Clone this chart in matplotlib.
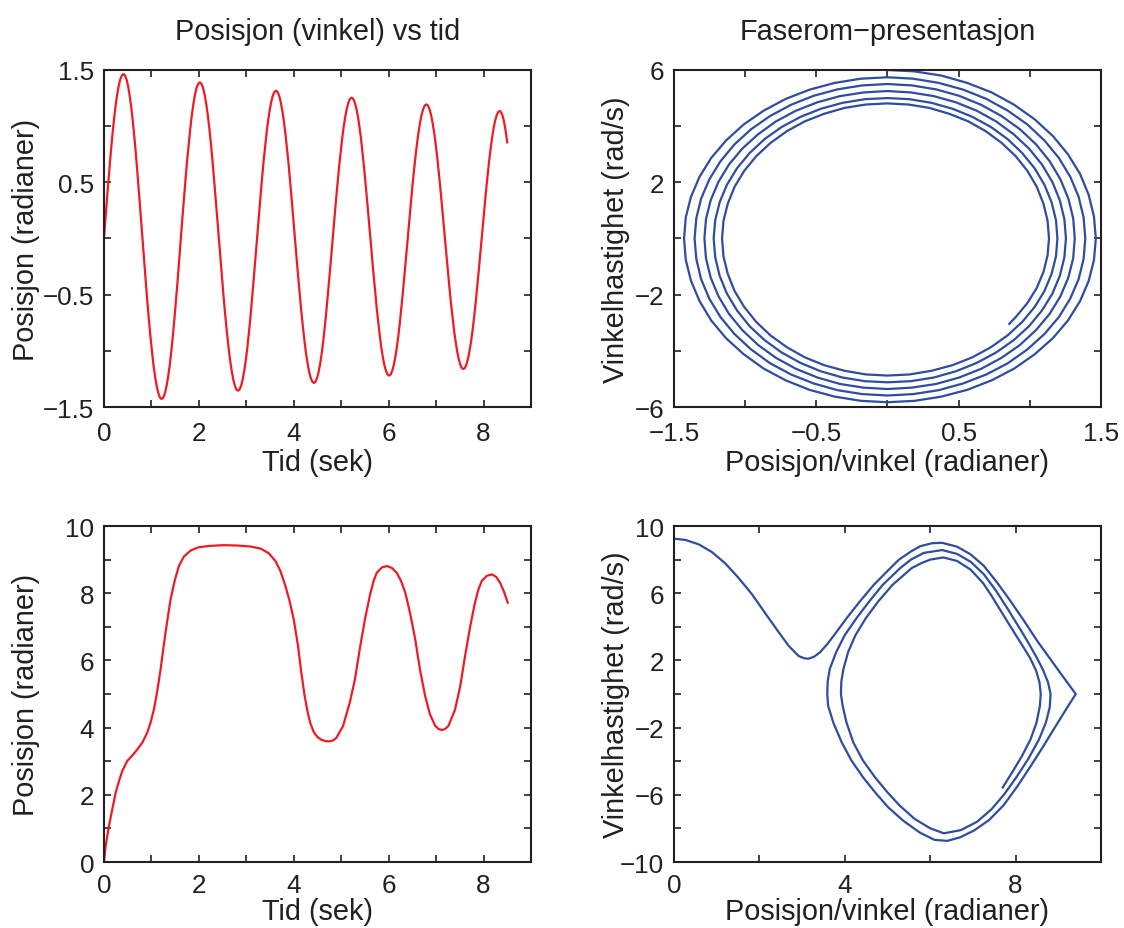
import numpy as np
import matplotlib
matplotlib.use('Agg')
import matplotlib.pyplot as plt

plt.rcParams['font.family'] = ['Liberation Sans', 'DejaVu Sans']

RED = '#ed1c24'
BLUE = '#2f4d9f'
INK = '#231f20'

# --- øverst: liten utslag, tid / vinkel / vinkelhastighet (lest av bildet)
t_top = [
    0.000, 0.034, 0.068, 0.103, 0.137, 0.171, 0.205, 0.239, 0.273, 0.308, 0.342, 0.376, 0.410,
    0.443, 0.477, 0.510, 0.543, 0.577, 0.610, 0.643, 0.677, 0.710, 0.743, 0.777, 0.810,
    0.844, 0.878, 0.911, 0.945, 0.979, 1.013, 1.046, 1.080, 1.114, 1.148, 1.181, 1.215,
    1.249, 1.283, 1.316, 1.350, 1.384, 1.418, 1.451, 1.485, 1.519, 1.553, 1.586, 1.620,
    1.653, 1.687, 1.720, 1.753, 1.787, 1.820, 1.853, 1.887, 1.920, 1.953, 1.987, 2.020,
    2.053, 2.087, 2.120, 2.153, 2.187, 2.220, 2.253, 2.287, 2.320, 2.353, 2.387, 2.420,
    2.454, 2.488, 2.521, 2.555, 2.589, 2.623, 2.656, 2.690, 2.724, 2.758, 2.791, 2.825,
    2.858, 2.892, 2.925, 2.958, 2.992, 3.025, 3.058, 3.092, 3.125, 3.158, 3.192, 3.225,
    3.258, 3.292, 3.325, 3.358, 3.392, 3.425, 3.458, 3.492, 3.525, 3.558, 3.592, 3.625,
    3.658, 3.692, 3.725, 3.758, 3.792, 3.825, 3.858, 3.892, 3.925, 3.958, 3.992, 4.025,
    4.058, 4.092, 4.125, 4.158, 4.192, 4.225, 4.258, 4.292, 4.325, 4.358, 4.392, 4.425,
    4.458, 4.491, 4.524, 4.557, 4.590, 4.623, 4.655, 4.688, 4.721, 4.754, 4.787, 4.820,
    4.853, 4.887, 4.920, 4.953, 4.987, 5.020, 5.053, 5.087, 5.120, 5.153, 5.187, 5.220,
    5.253, 5.286, 5.319, 5.352, 5.385, 5.418, 5.450, 5.483, 5.516, 5.549, 5.582, 5.615,
    5.648, 5.681, 5.714, 5.747, 5.780, 5.813, 5.845, 5.878, 5.911, 5.944, 5.977, 6.010,
    6.043, 6.075, 6.108, 6.140, 6.173, 6.205, 6.238, 6.270, 6.303, 6.335, 6.368, 6.400,
    6.433, 6.466, 6.499, 6.532, 6.565, 6.598, 6.630, 6.663, 6.696, 6.729, 6.762, 6.795,
    6.828, 6.860, 6.893, 6.925, 6.958, 6.990, 7.023, 7.055, 7.088, 7.120, 7.153, 7.185,
    7.218, 7.250, 7.283, 7.315, 7.348, 7.380, 7.413, 7.445, 7.478, 7.510, 7.543, 7.575,
    7.607, 7.639, 7.671, 7.703, 7.735, 7.768, 7.800, 7.832, 7.864, 7.896, 7.928, 7.960,
    7.992, 8.023, 8.055, 8.087, 8.118, 8.150, 8.182, 8.213, 8.245, 8.277, 8.308, 8.340,
    8.369, 8.399, 8.428, 8.457, 8.486, 8.500]

theta_top = [
    0.000, 0.191, 0.379, 0.560, 0.732, 0.891, 1.035, 1.162, 1.268, 1.353, 1.414, 1.451, 1.464,
    1.451, 1.414, 1.353, 1.268, 1.162, 1.035, 0.891, 0.732, 0.560, 0.379, 0.191, 0.000,
    -0.186, -0.370, -0.547, -0.715, -0.870, -1.010, -1.134, -1.238, -1.320, -1.380, -1.417, -1.429,
    -1.417, -1.380, -1.320, -1.238, -1.134, -1.010, -0.870, -0.715, -0.547, -0.370, -0.186, 0.000,
    0.181, 0.360, 0.532, 0.695, 0.846, 0.983, 1.103, 1.204, 1.284, 1.343, 1.378, 1.390,
    1.378, 1.343, 1.284, 1.204, 1.103, 0.983, 0.846, 0.695, 0.532, 0.360, 0.181, 0.000,
    -0.177, -0.351, -0.519, -0.678, -0.825, -0.958, -1.075, -1.173, -1.252, -1.309, -1.343, -1.355,
    -1.343, -1.309, -1.252, -1.173, -1.075, -0.958, -0.825, -0.678, -0.519, -0.351, -0.177, 0.000,
    0.172, 0.341, 0.504, 0.658, 0.801, 0.931, 1.044, 1.140, 1.216, 1.271, 1.305, 1.316,
    1.305, 1.271, 1.216, 1.140, 1.044, 0.931, 0.801, 0.658, 0.504, 0.341, 0.172, 0.000,
    -0.168, -0.333, -0.492, -0.643, -0.783, -0.909, -1.020, -1.114, -1.188, -1.242, -1.275, -1.286,
    -1.275, -1.242, -1.188, -1.114, -1.020, -0.909, -0.783, -0.643, -0.492, -0.333, -0.168, 0.000,
    0.164, 0.325, 0.480, 0.627, 0.763, 0.887, 0.995, 1.086, 1.159, 1.211, 1.243, 1.254,
    1.243, 1.211, 1.159, 1.086, 0.995, 0.887, 0.763, 0.627, 0.480, 0.325, 0.164, 0.000,
    -0.159, -0.316, -0.467, -0.611, -0.743, -0.863, -0.969, -1.057, -1.128, -1.179, -1.210, -1.221,
    -1.210, -1.179, -1.128, -1.057, -0.969, -0.863, -0.743, -0.611, -0.467, -0.316, -0.159, 0.000,
    0.156, 0.309, 0.457, 0.597, 0.727, 0.844, 0.947, 1.034, 1.103, 1.153, 1.184, 1.194,
    1.184, 1.153, 1.103, 1.034, 0.947, 0.844, 0.727, 0.597, 0.457, 0.309, 0.156, 0.000,
    -0.152, -0.301, -0.445, -0.581, -0.707, -0.822, -0.922, -1.006, -1.074, -1.122, -1.152, -1.162,
    -1.152, -1.122, -1.074, -1.006, -0.922, -0.822, -0.707, -0.581, -0.445, -0.301, -0.152, 0.000,
    0.148, 0.294, 0.434, 0.568, 0.691, 0.803, 0.901, 0.983, 1.049, 1.096, 1.125, 1.135,
    1.125, 1.096, 1.049, 0.983, 0.901, 0.856]

omega_top = [
    6.00, 5.95, 5.80, 5.54, 5.20, 4.76, 4.24, 3.65, 3.00, 2.30, 1.55, 0.78, 0.00,
    -0.76, -1.51, -2.23, -2.92, -3.55, -4.12, -4.63, -5.05, -5.39, -5.63, -5.78, -5.83,
    -5.78, -5.63, -5.39, -5.05, -4.63, -4.12, -3.55, -2.92, -2.23, -1.51, -0.76, 0.00,
    0.75, 1.49, 2.20, 2.87, 3.49, 4.06, 4.55, 4.97, 5.30, 5.54, 5.69, 5.74,
    5.69, 5.54, 5.30, 4.97, 4.55, 4.06, 3.49, 2.87, 2.20, 1.49, 0.75, 0.00,
    -0.73, -1.45, -2.14, -2.80, -3.40, -3.95, -4.44, -4.84, -5.16, -5.40, -5.54, -5.59,
    -5.54, -5.40, -5.16, -4.84, -4.44, -3.95, -3.40, -2.80, -2.14, -1.45, -0.73, 0.00,
    0.72, 1.42, 2.10, 2.75, 3.35, 3.89, 4.36, 4.76, 5.08, 5.31, 5.45, 5.50,
    5.45, 5.31, 5.08, 4.76, 4.36, 3.89, 3.35, 2.75, 2.10, 1.42, 0.72, 0.00,
    -0.70, -1.39, -2.05, -2.68, -3.26, -3.79, -4.25, -4.64, -4.95, -5.18, -5.31, -5.36,
    -5.31, -5.18, -4.95, -4.64, -4.25, -3.79, -3.26, -2.68, -2.05, -1.39, -0.70, 0.00,
    0.69, 1.36, 2.01, 2.63, 3.20, 3.71, 4.17, 4.55, 4.85, 5.07, 5.20, 5.25,
    5.20, 5.07, 4.85, 4.55, 4.17, 3.71, 3.20, 2.63, 2.01, 1.36, 0.69, 0.00,
    -0.67, -1.33, -1.96, -2.56, -3.12, -3.62, -4.06, -4.43, -4.73, -4.95, -5.08, -5.12,
    -5.08, -4.95, -4.73, -4.43, -4.06, -3.62, -3.12, -2.56, -1.96, -1.33, -0.67, 0.00,
    0.65, 1.29, 1.91, 2.50, 3.04, 3.54, 3.97, 4.33, 4.62, 4.83, 4.96, 5.00,
    4.96, 4.83, 4.62, 4.33, 3.97, 3.54, 3.04, 2.50, 1.91, 1.29, 0.65, 0.00,
    -0.64, -1.26, -1.87, -2.44, -2.97, -3.45, -3.87, -4.23, -4.51, -4.71, -4.84, -4.88,
    -4.84, -4.71, -4.51, -4.23, -3.87, -3.45, -2.97, -2.44, -1.87, -1.26, -0.64, 0.00,
    0.63, 1.24, 1.84, 2.41, 2.93, 3.40, 3.82, 4.17, 4.44, 4.65, 4.77, 4.81,
    4.77, 4.65, 4.44, 4.17, 3.82, 3.40, 2.93, 2.41, 1.84, 1.24, 0.63, 0.00,
    -0.60, -1.19, -1.76, -2.30, -2.80, -3.04]

# --- nederst: stort utslag (over toppen), vinkel mot tid
t_bot = [0.000, 0.035, 0.105, 0.175, 0.246, 0.316, 0.386, 0.491, 0.596, 0.702,
         0.807, 0.912, 0.982, 1.053, 1.123, 1.193, 1.263, 1.333, 1.404, 1.488,
         1.579, 1.684, 1.825, 2.000, 2.246, 2.526, 2.807, 3.088, 3.298, 3.474,
         3.614, 3.719, 3.825, 3.916, 4.000, 4.090, 4.160, 4.230, 4.290, 4.350,
         4.420, 4.500, 4.580, 4.670, 4.750, 4.830, 4.900, 5.040, 5.180, 5.290,
         5.390, 5.500, 5.610, 5.680, 5.750, 5.860, 5.970, 6.070, 6.170, 6.260,
         6.350, 6.450, 6.560, 6.660, 6.770, 6.870, 6.980, 7.050, 7.120, 7.190,
         7.260, 7.400, 7.510, 7.610, 7.720, 7.820, 7.890, 7.960, 8.070, 8.180,
         8.270, 8.350, 8.430, 8.510]
theta_bot = [0.00, 0.48, 1.07, 1.57, 2.06, 2.41, 2.71, 3.01, 3.17, 3.35,
             3.55, 3.85, 4.15, 4.54, 5.09, 5.73, 6.48, 7.17, 7.82, 8.36,
             8.81, 9.09, 9.27, 9.37, 9.41, 9.43, 9.42, 9.39, 9.33, 9.19,
             8.96, 8.66, 8.21, 7.75, 7.22, 6.43, 5.63, 4.94, 4.48, 4.13,
             3.87, 3.72, 3.64, 3.60, 3.59, 3.62, 3.70, 4.05, 4.74, 5.44,
             6.33, 7.22, 7.97, 8.35, 8.61, 8.77, 8.81, 8.75, 8.61, 8.37,
             8.02, 7.42, 6.63, 5.73, 4.94, 4.40, 4.06, 3.96, 3.93, 3.96,
             4.05, 4.54, 5.24, 6.13, 7.02, 7.72, 8.10, 8.36, 8.52, 8.56,
             8.48, 8.31, 8.05, 7.72]

# faserom nederst: (vinkel, vinkelhastighet) langs kurven
phase_bot = [
    (0.00, 9.25), (0.27, 9.17), (0.58, 8.91), (0.89, 8.45), (1.20, 7.78),
    (1.51, 6.92), (1.83, 5.93), (2.14, 4.80), (2.45, 3.69), (2.69, 2.86),
    (2.92, 2.26), (3.05, 2.13), (3.15, 2.10), (3.28, 2.22), (3.42, 2.48),
    (3.60, 3.00), (3.75, 3.50), (4.04, 4.50), (4.35, 5.50), (4.68, 6.50),
    (5.07, 7.50), (5.27, 8.00), (5.56, 8.50), (5.77, 8.80), (6.05, 8.98),
    (6.28, 9.00),
    (6.63, 8.77), (6.95, 8.31), (7.26, 7.62), (7.57, 6.63), (7.88, 5.54),
    (8.20, 4.35), (8.51, 3.15), (8.82, 2.06), (9.13, 0.97), (9.41, 0.00),
    (9.21, -0.80), (8.93, -1.95), (8.64, -3.15), (8.34, -4.35), (8.04, -5.50),
    (7.72, -6.62), (7.38, -7.50), (7.03, -8.12), (6.70, -8.53), (6.40, -8.74),
    (6.10, -8.68), (5.76, -8.25), (5.37, -7.54), (5.02, -6.75), (4.71, -5.85),
    (4.43, -4.96), (4.16, -3.97), (3.93, -2.88), (3.73, -1.69), (3.61, -0.69),
    (3.59, 0.00),
    (3.60, 0.75), (3.65, 1.50), (3.80, 2.50), (4.00, 3.50), (4.27, 4.50),
    (4.57, 5.50), (4.89, 6.50), (5.30, 7.50), (5.55, 8.00), (5.85, 8.40),
    (6.28, 8.57),
    (6.63, 8.34), (6.95, 7.87), (7.26, 7.12), (7.55, 6.12), (7.82, 5.05),
    (8.07, 4.02), (8.30, 3.05), (8.50, 2.15), (8.65, 1.40), (8.76, 0.70),
    (8.82, 0.00), (8.80, -0.80), (8.71, -1.70), (8.55, -2.70), (8.30, -3.85),
    (8.02, -4.95), (7.74, -5.95), (7.44, -6.85), (7.10, -7.60), (6.72, -8.10),
    (6.32, -8.29),
    (6.00, -7.99), (5.64, -7.44), (5.29, -6.65), (5.00, -5.85), (4.71, -4.96),
    (4.43, -3.97), (4.20, -2.88), (4.04, -1.69), (3.95, -0.69), (3.91, 0.00),
    (3.92, 0.75), (3.97, 1.50), (4.08, 2.50), (4.25, 3.50), (4.49, 4.50),
    (4.78, 5.50), (5.12, 6.50), (5.57, 7.50), (5.80, 7.80), (6.00, 8.00),
    (6.31, 8.13),
    (6.63, 7.92), (6.95, 7.40), (7.24, 6.60), (7.45, 5.80), (7.63, 5.05),
    (7.88, 4.02), (8.12, 3.05), (8.34, 2.15), (8.48, 1.40), (8.56, 0.70),
    (8.59, 0.00), (8.57, -0.71), (8.49, -1.71), (8.35, -2.70), (8.15, -3.69),
    (7.94, -4.58), (7.70, -5.56)]

# akser og merking
time_ticks = list(range(10))
time_labels = ['0', '', '2', '', '4', '', '6', '', '8', '']
pos_ticks_top = [-1.5, -1.0, -0.5, 0.0, 0.5, 1.0, 1.5]
pos_labels_top = ['\u22121.5', '', '\u22120.5', '', '0.5', '', '1.5']
vel_ticks_top = [-6, -4, -2, 0, 2, 4, 6]
vel_labels_top = ['\u22126', '', '\u22122', '', '2', '', '6']
pos_ticks_bot = list(range(11))
pos_labels_bot = ['0', '', '2', '', '4', '', '6', '', '8', '', '10']
ang_ticks_bot = [0, 2, 4, 6, 8, 10]
ang_labels_bot = ['0', '', '4', '', '8', '']
vel_ticks_bot = list(range(-10, 11, 2))
vel_labels_bot = ['\u221210', '', '\u22126', '', '\u22122', '', '2', '', '6', '', '10']

LABEL_FS = 20.8
TICK_FS = 18.7


def style(ax, xt, xl, yt, yl, xlim, ylim, xlabel, ylabel, ylab_x, xpad, lpad):
    ax.set_xlim(xlim)
    ax.set_ylim(ylim)
    ax.set_xticks(xt)
    ax.set_xticklabels(xl)
    ax.set_yticks(yt)
    ax.set_yticklabels(yl)
    ax.tick_params(direction='in', top=True, right=True, length=5, width=1.2,
                   labelsize=TICK_FS, colors=INK)
    ax.tick_params(axis='x', pad=xpad)
    ax.tick_params(axis='y', pad=7)
    for s in ax.spines.values():
        s.set_linewidth(1.5)
        s.set_color(INK)
    ax.set_xlabel(xlabel, fontsize=LABEL_FS, color=INK, labelpad=lpad)
    ax.set_ylabel(ylabel, fontsize=LABEL_FS, color=INK)
    ax.yaxis.set_label_coords(ylab_x, 0.5)


fig = plt.figure(figsize=(11.24, 9.29), dpi=100)
ax1 = fig.add_axes([0.0925, 0.5608, 0.3799, 0.3628])
ax2 = fig.add_axes([0.5996, 0.5608, 0.3799, 0.3628])
ax3 = fig.add_axes([0.0925, 0.0710, 0.3799, 0.3617])
ax4 = fig.add_axes([0.5996, 0.0710, 0.3799, 0.3617])

ax1.plot(t_top, theta_top, color=RED, lw=1.6)
style(ax1, time_ticks, time_labels, pos_ticks_top, pos_labels_top, (0, 9), (-1.5, 1.5),
      'Tid (sek)', 'Posisjon (radianer)', -0.150, 10, 2)
ax1.set_title('Posisjon (vinkel) vs tid', fontsize=LABEL_FS, color=INK, pad=22)

ax2.plot(theta_top, omega_top, color=BLUE, lw=1.6)
style(ax2, pos_ticks_top, pos_labels_top, vel_ticks_top, vel_labels_top, (-1.5, 1.5), (-6, 6),
      'Posisjon/vinkel (radianer)', 'Vinkelhastighet (rad/s)', -0.103, 10, 2)
ax2.set_title('Faserom\u2212presentasjon', fontsize=LABEL_FS, color=INK, pad=22)

ax3.plot(t_bot, theta_bot, color=RED, lw=1.6)
style(ax3, time_ticks, time_labels, pos_ticks_bot, pos_labels_bot, (0, 9), (0, 10),
      'Tid (sek)', 'Posisjon (radianer)', -0.150, 8, 0)

ph = np.array(phase_bot)
ax4.plot(ph[:, 0], ph[:, 1], color=BLUE, lw=1.6)
style(ax4, ang_ticks_bot, ang_labels_bot, vel_ticks_bot, vel_labels_bot, (0, 10), (-10, 10),
      'Posisjon/vinkel (radianer)', 'Vinkelhastighet (rad/s)', -0.103, 8, 0)

fig.savefig('out.png', dpi=100)
